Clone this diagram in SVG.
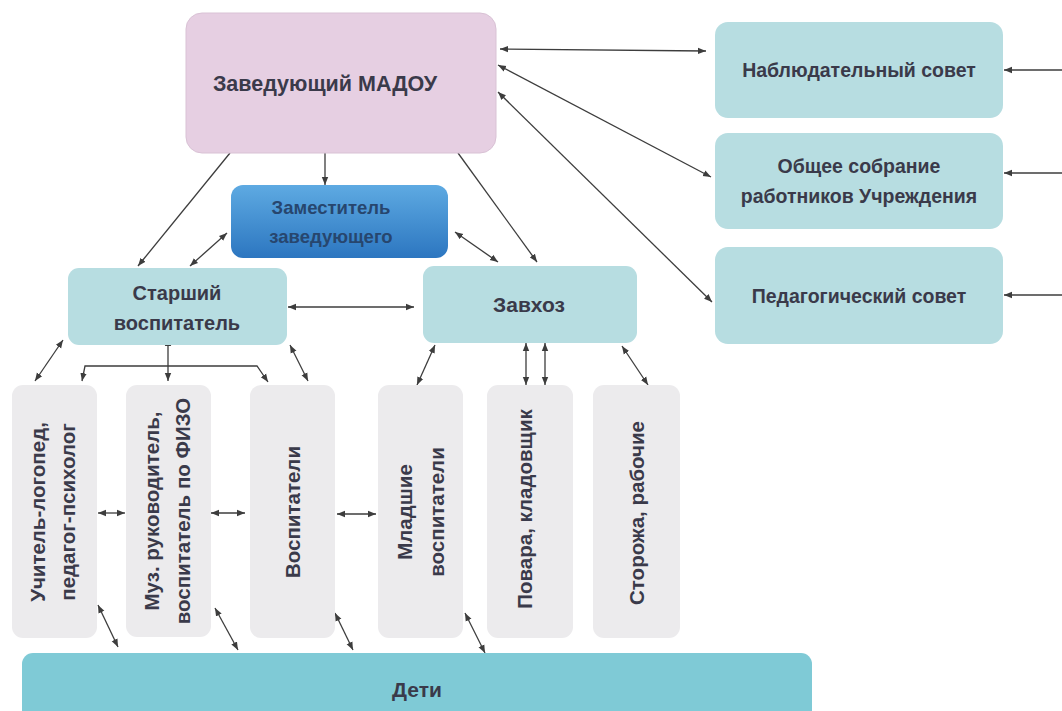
<svg xmlns="http://www.w3.org/2000/svg" width="1062" height="711" viewBox="0 0 1062 711">
<defs>
<style>
.t{font-family:"Liberation Sans",Arial,sans-serif;font-weight:bold;fill:#3a3a4a;text-anchor:middle}
.c{fill:none;stroke:#3d3d3d;stroke-width:1.3}
.teal{fill:#b7dde1}
.gray{fill:#ecebed}
.v{font-size:20.5px}
</style>
<linearGradient id="blue" x1="0" y1="0" x2="0" y2="1">
<stop offset="0" stop-color="#5eaae2"/>
<stop offset="1" stop-color="#2c76c0"/>
</linearGradient>
<marker id="ae" viewBox="0 0 10 10" refX="10" refY="5" markerWidth="8" markerHeight="8" markerUnits="userSpaceOnUse" orient="auto">
<path d="M0,1 L10,5 L0,9 z" fill="#3d3d3d"/>
</marker>
<marker id="as" viewBox="0 0 10 10" refX="10" refY="5" markerWidth="8" markerHeight="8" markerUnits="userSpaceOnUse" orient="auto-start-reverse">
<path d="M0,1 L10,5 L0,9 z" fill="#3d3d3d"/>
</marker>
</defs>
<rect width="1062" height="711" fill="#ffffff"/>

<g id="connectors">
<line class="c" x1="500" y1="49" x2="706" y2="51" marker-start="url(#as)" marker-end="url(#ae)"/>
<line class="c" x1="498" y1="65" x2="711" y2="177" marker-start="url(#as)" marker-end="url(#ae)"/>
<line class="c" x1="498" y1="92" x2="712" y2="302" marker-start="url(#as)" marker-end="url(#ae)"/>
<line class="c" x1="1062" y1="70" x2="1004" y2="70" marker-end="url(#ae)"/>
<line class="c" x1="1062" y1="173" x2="1004" y2="173" marker-end="url(#ae)"/>
<line class="c" x1="1062" y1="295" x2="1004" y2="295" marker-end="url(#ae)"/>
<line class="c" x1="325" y1="153" x2="325" y2="185" marker-end="url(#ae)"/>
<line class="c" x1="230" y1="153" x2="138" y2="266" marker-end="url(#ae)"/>
<line class="c" x1="458" y1="153" x2="537" y2="262" marker-end="url(#ae)"/>
<line class="c" x1="227" y1="233" x2="190" y2="266" marker-start="url(#as)" marker-end="url(#ae)"/>
<line class="c" x1="455" y1="232" x2="498" y2="262" marker-start="url(#as)" marker-end="url(#ae)"/>
<line class="c" x1="288" y1="307" x2="414" y2="307" marker-start="url(#as)" marker-end="url(#ae)"/>
<line class="c" x1="63" y1="340" x2="35" y2="381" marker-start="url(#as)" marker-end="url(#ae)"/>
<line class="c" x1="168" y1="338" x2="168" y2="381" marker-start="url(#as)" marker-end="url(#ae)"/>
<path class="c" d="M82,381 L85,366 L257,366 L268,382" marker-start="url(#as)" marker-end="url(#ae)"/>
<line class="c" x1="290" y1="345" x2="308" y2="381" marker-start="url(#as)" marker-end="url(#ae)"/>
<line class="c" x1="435" y1="345" x2="417" y2="385" marker-start="url(#as)" marker-end="url(#ae)"/>
<line class="c" x1="526" y1="343" x2="526" y2="385" marker-start="url(#as)" marker-end="url(#ae)"/>
<line class="c" x1="545" y1="343" x2="545" y2="385" marker-start="url(#as)" marker-end="url(#ae)"/>
<line class="c" x1="622" y1="346" x2="648" y2="385" marker-start="url(#as)" marker-end="url(#ae)"/>
<line class="c" x1="98" y1="513" x2="125" y2="513" marker-start="url(#as)" marker-end="url(#ae)"/>
<line class="c" x1="211" y1="513" x2="245" y2="513" marker-start="url(#as)" marker-end="url(#ae)"/>
<line class="c" x1="337" y1="514" x2="376" y2="514" marker-start="url(#as)" marker-end="url(#ae)"/>
<line class="c" x1="98" y1="605" x2="118" y2="647" marker-start="url(#as)" marker-end="url(#ae)"/>
<line class="c" x1="215" y1="608" x2="238" y2="650" marker-start="url(#as)" marker-end="url(#ae)"/>
<line class="c" x1="335" y1="613" x2="353" y2="650" marker-start="url(#as)" marker-end="url(#ae)"/>
<line class="c" x1="465" y1="613" x2="485" y2="653" marker-start="url(#as)" marker-end="url(#ae)"/>
</g>

<g id="zaveduyushchiy">
<rect x="186" y="13" width="310" height="140" rx="16" fill="#e6cfe2" stroke="#d9c2d5" stroke-width="1"/>
<text class="t" x="325" y="91" font-size="21.5">Заведующий МАДОУ</text>
</g>

<g id="nablyudatelnyy">
<rect class="teal" x="715" y="22" width="288" height="96" rx="13"/>
<text class="t" x="859" y="77" font-size="19.5">Наблюдательный совет</text>
</g>
<g id="obshchee">
<rect class="teal" x="715" y="133" width="288" height="96" rx="13"/>
<text class="t" x="859" y="173" font-size="19.5">Общее собрание</text>
<text class="t" x="859" y="203" font-size="19.5">работников Учреждения</text>
</g>
<g id="pedsovet">
<rect class="teal" x="715" y="247" width="288" height="97" rx="13"/>
<text class="t" x="859" y="303" font-size="19.5">Педагогический совет</text>
</g>

<g id="zamestitel">
<rect x="231" y="185" width="217" height="73" rx="12" fill="url(#blue)"/>
<text class="t" x="331" y="214" font-size="18.5" style="fill:#27466e">Заместитель</text>
<text class="t" x="331" y="243" font-size="18.5" style="fill:#27466e">заведующего</text>
</g>

<g id="starshiy">
<rect class="teal" x="68" y="268" width="219" height="77" rx="11"/>
<text class="t" x="177" y="300" font-size="20">Старший</text>
<text class="t" x="177" y="330" font-size="20">воспитатель</text>
</g>

<g id="zavkhoz">
<rect class="teal" x="423" y="266" width="214" height="77" rx="11"/>
<text class="t" x="529" y="312" font-size="21">Завхоз</text>
</g>

<g id="logoped">
<rect class="gray" x="12" y="385" width="85" height="253" rx="11"/>
<text class="t v" transform="translate(45,512) rotate(-90)">Учитель-логопед,</text>
<text class="t v" transform="translate(75,512) rotate(-90)">педагог-психолог</text>
</g>
<g id="muz">
<rect class="gray" x="126" y="385" width="85" height="252" rx="11"/>
<text class="t v" transform="translate(159,511) rotate(-90)">Муз. руководитель,</text>
<text class="t v" transform="translate(190,511) rotate(-90)">воспитатель по ФИЗО</text>
</g>
<g id="vospitateli">
<rect class="gray" x="250" y="385" width="85" height="253" rx="11"/>
<text class="t v" transform="translate(300,512) rotate(-90)">Воспитатели</text>
</g>
<g id="mladshie">
<rect class="gray" x="378" y="385" width="85" height="253" rx="11"/>
<text class="t v" transform="translate(412,512) rotate(-90)">Младшие</text>
<text class="t v" transform="translate(444,512) rotate(-90)">воспитатели</text>
</g>
<g id="povara">
<rect class="gray" x="487" y="385" width="86" height="253" rx="11"/>
<text class="t v" transform="translate(532,509) rotate(-90)">Повара, кладовщик</text>
</g>
<g id="storozha">
<rect class="gray" x="593" y="385" width="87" height="253" rx="11"/>
<text class="t v" transform="translate(644,513) rotate(-90)">Сторожа, рабочие</text>
</g>

<g id="deti">
<rect x="22" y="653" width="790" height="70" rx="11" fill="#7fcad6"/>
<text class="t" x="417" y="697" font-size="21">Дети</text>
</g>
</svg>
